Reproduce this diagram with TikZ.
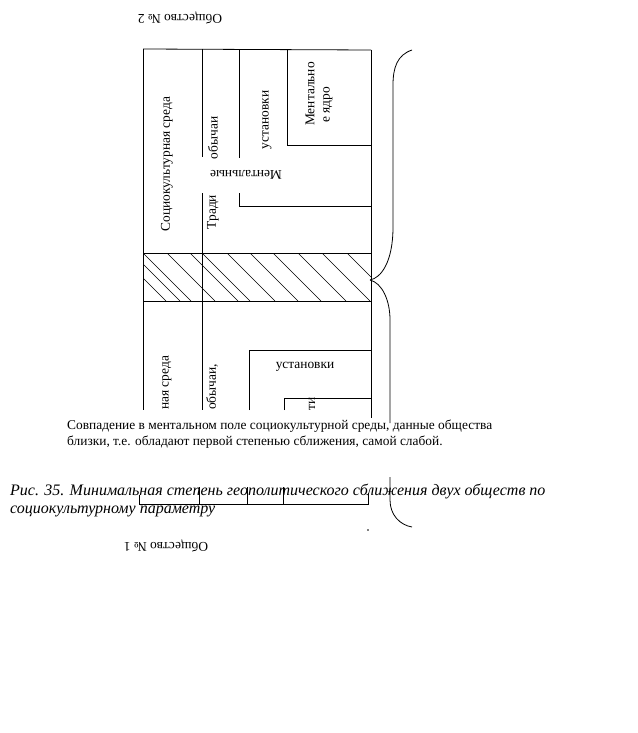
\documentclass[tikz,border=0pt]{standalone}
\usepackage{fontspec}
\setmainfont{Liberation Serif}
\begin{document}
\begin{tikzpicture}[x=1pt,y=-1pt,
  ln/.style={line width=0.8pt},
  hl/.style={line width=0.6pt},
  lbl/.style={inner sep=0pt,font=\fontsize{13.4}{15}\selectfont},
  body/.style={inner sep=0pt,font=\fontsize{13.4}{15}\selectfont},
  captxt/.style={inner sep=0pt,font=\fontsize{16}{18}\selectfont\itshape}]
\useasboundingbox[fill=white] (0,0) rectangle (637,733);
% upper block
\draw[ln] (143,49) -- (371,50);
\draw[ln] (143,49) -- (143,410);
\draw[ln] (202,49) -- (202,157);
\draw[ln] (202,193) -- (202,410);
\draw[ln] (239,50) -- (239,158);
\draw[ln] (239,193) -- (239,206) -- (371,206);
\draw[ln] (287,50) -- (287,145) -- (371,145);
\draw[ln] (371,50) -- (371,418);
% band
\draw[ln] (143,253) -- (371,253);
\draw[ln] (143,301) -- (371,301);
\begin{scope}
\clip (143,253) rectangle (371,301);
\foreach \x in {118,132,143,167,190,202,227,250,273,298,322,347}
  \draw[hl] (\x,253) -- ++(48,48);
\end{scope}
% lower block
\draw[ln] (249,410) -- (249,350) -- (371,350);
\draw[ln] (284,410) -- (284,398) -- (371,398);
% bottom pieces
\draw[ln] (139,495) -- (139,504) -- (368,504) -- (368,493);
\draw[ln] (199,487) -- (199,504);
\draw[ln] (247,487) -- (247,504);
\draw[ln] (283,487) -- (283,504);
\fill (368,530) circle (0.8);
% brace
\draw[ln] (412,50) .. controls (397,55) and (393,68) .. (393,85) -- (393,227)
  .. controls (393,262) and (381,278) .. (370,280);
\draw[ln] (370,280) .. controls (382,283) and (390,300) .. (390,320) -- (390,423);
\draw[ln] (390,477) -- (390,500) .. controls (390,515) and (400,525) .. (412,527);
% labels
\node[lbl,rotate=180] (soc2) at (180,18) {Общество № 2};
\node[lbl,rotate=180] (soc1) at (166,546) {Общество № 1};
\node[lbl,rotate=90] (sreda) at (167,164) {Социокультурная среда};
\node[lbl,rotate=90] (obych) at (213,138) {обычаи};
\node[lbl,rotate=90] (tradi) at (213,212) {Тради};
\node[lbl,rotate=180] (ment) at (246,175) {Ментальные};
\node[lbl,rotate=90] (ust) at (267,120) {установки};
\node[lbl,rotate=90,anchor=west] (mya) at (310,126) {Ментально};
\node[lbl,rotate=90,anchor=west] (myb) at (328,123) {е ядро};
\node[lbl,rotate=90,anchor=west] (sreda2) at (167,410) {ная среда};
\node[lbl,rotate=90,anchor=west] (obych2) at (212,410) {обычаи,};
\node[lbl] (ust2) at (305,367) {установки};
\node[lbl,rotate=90,anchor=west] (ti) at (312,411) {ти};
\node[body,anchor=base west] (t1) at (67,429) {Совпадение в ментальном поле социокультурной среды, данные общества};
\node[body,anchor=base west] (t2) at (67,445) {близки, т.е. обладают первой степенью сближения, самой слабой.};
\node[captxt,anchor=base west] (c1) at (10,495) {Рис. 35. Минимальная степень геополитического сближения двух обществ по};
\node[captxt,anchor=base west] (c2) at (10,513) {социокультурному параметру};
\end{tikzpicture}
\end{document}
